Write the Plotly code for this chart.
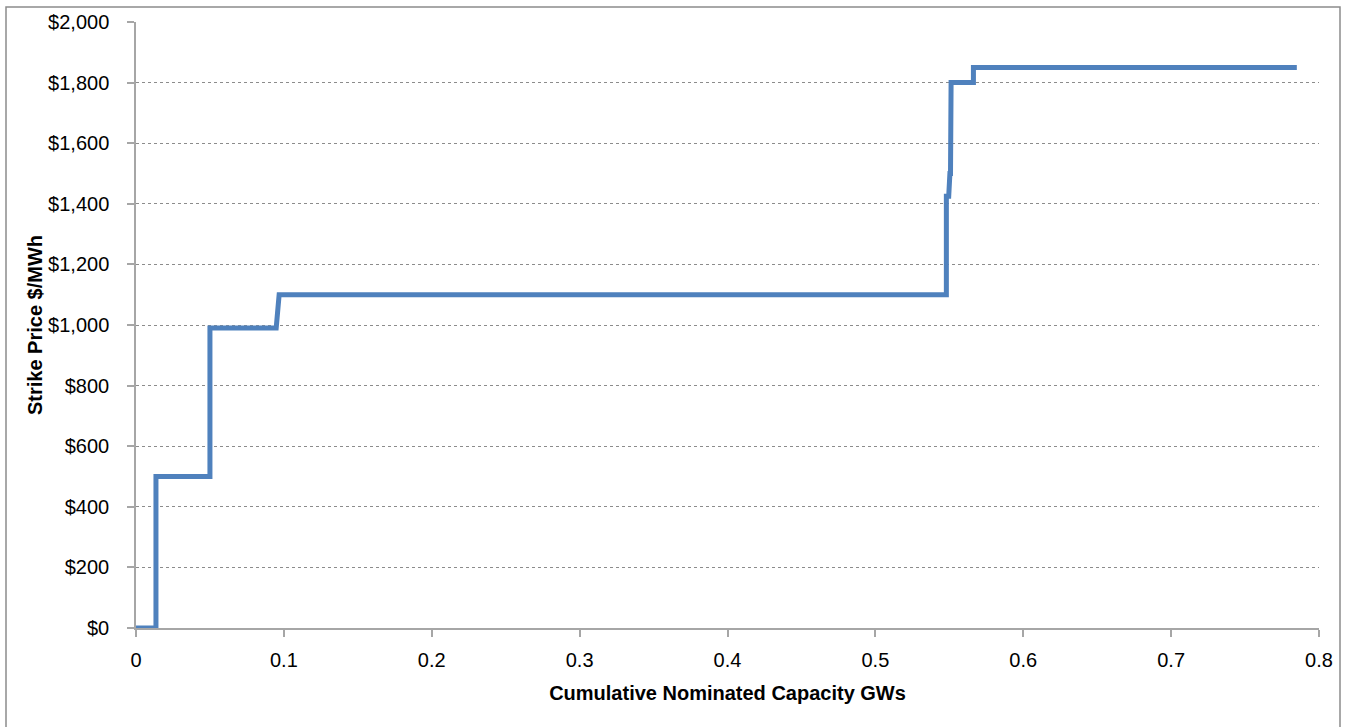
import plotly.graph_objects as go

# Step curve: cumulative capacity (GW) vs strike price ($/MWh)
capacity_gw = [0.0, 0.0135, 0.0135, 0.050, 0.050, 0.0948, 0.0968, 0.548, 0.548, 0.5496, 0.5504, 0.5508, 0.5512, 0.5663, 0.5663, 0.785]
strike_price = [0, 0, 500, 500, 990, 990, 1100, 1100, 1425, 1425, 1500, 1500, 1800, 1800, 1850, 1850]

y_tickvals = [0, 200, 400, 600, 800, 1000, 1200, 1400, 1600, 1800, 2000]
y_ticktext = ["$0", "$200", "$400", "$600", "$800", "$1,000", "$1,200", "$1,400", "$1,600", "$1,800", "$2,000"]
x_tickvals = [0, 0.1, 0.2, 0.3, 0.4, 0.5, 0.6, 0.7, 0.8]
x_ticktext = ["0", "0.1", "0.2", "0.3", "0.4", "0.5", "0.6", "0.7", "0.8"]

W, H = 1346, 727
ml, mr, mt, mb = 136, 27, 22, 99

fig = go.Figure()
fig.add_trace(go.Scatter(
    x=capacity_gw, y=strike_price, mode="lines",
    line=dict(color="#4F81BD", width=5),
    hoverinfo="x+y", showlegend=False,
))

font = "Liberation Sans, Arial, sans-serif"
fig.update_layout(
    width=W, height=H,
    margin=dict(l=ml, r=mr, t=mt, b=mb),
    paper_bgcolor="white", plot_bgcolor="white",
    font=dict(family=font, size=20, color="black"),
    xaxis=dict(
        range=[0, 0.8], tickvals=x_tickvals, ticktext=x_ticktext,
        showgrid=False, zeroline=False,
        showline=True, linecolor="#A6A6A6", linewidth=1.5,
        ticks="outside", ticklen=7, tickcolor="#A6A6A6", tickwidth=1.5,
        tickfont=dict(size=20), ticklabelstandoff=6,
        title=dict(text="<b>Cumulative Nominated Capacity GWs</b>", font=dict(size=20), standoff=16),
    ),
    yaxis=dict(
        range=[0, 2000], tickvals=y_tickvals, ticktext=y_ticktext,
        showgrid=True, gridcolor="#8C8C8C", griddash="dot", gridwidth=1,
        zeroline=False,
        showline=True, linecolor="#A6A6A6", linewidth=1.5,
        ticks="outside", ticklen=7, tickcolor="#A6A6A6", tickwidth=1.5,
        tickfont=dict(size=20), ticklabelstandoff=14,
        title=dict(text="<b>Strike Price $/MWh</b>", font=dict(size=20), standoff=0),
    ),
)

# outer chart border (extends past bottom edge as in the reference)
plot_w = W - ml - mr
plot_h = H - mt - mb
fig.add_shape(
    type="rect", xref="paper", yref="paper",
    x0=(6 - ml) / plot_w, x1=(1340 - ml) / plot_w,
    y0=(H - 740 - mb) / plot_h, y1=(H - 7 - mb) / plot_h,
    line=dict(color="#8C8C8C", width=1.5), fillcolor="rgba(0,0,0,0)", layer="below",
)

fig.write_html(
    "out.html",
    config={"displayModeBar": False},
    post_script="document.body.style.margin='0';document.body.style.overflow='hidden';",
)
